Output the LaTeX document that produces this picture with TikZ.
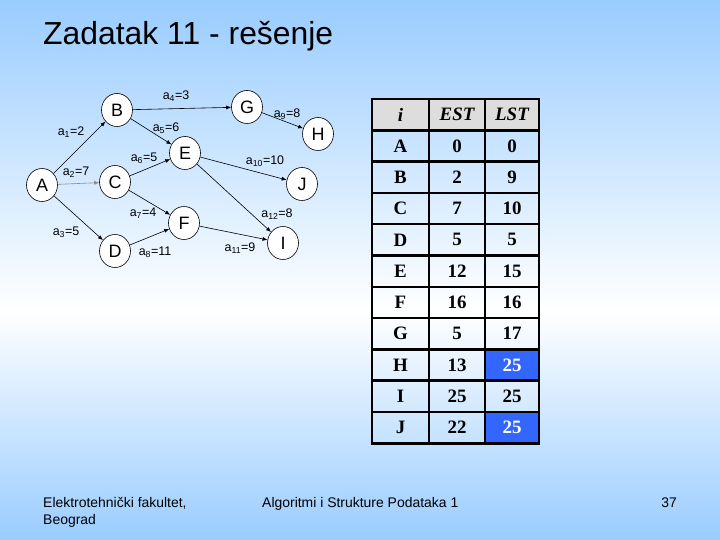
\documentclass[tikz,border=0pt]{standalone}
\usepackage{fontspec}
\setmainfont{Liberation Sans}
\newfontfamily\tabfont{Liberation Serif}
\usepackage{tikz}
\usetikzlibrary{
  shapes.geometric,
  arrows.meta,
  positioning
}
\definecolor{SlideBlue}{RGB}{153, 204, 255}
\definecolor{HeadGray}{RGB}{221, 221, 221}
\definecolor{MarkBlue}{RGB}{51, 102, 255}
\tikzset{
    event/.style={ellipse, draw, fill=white, line width=0.6bp, inner sep=0pt,
        minimum width=31bp, minimum height=33bp, font=\fontsize{18}{18}\selectfont},
    act/.style={-{Latex[length=5bp, width=4bp]}, line width=0.6bp},
    lbl/.style={inner sep=0pt, font=\fontsize{12.5}{12.5}\selectfont},
    cell/.style={rectangle, draw, line width=2.5bp, inner sep=0pt, minimum height=31.3bp,
        font=\tabfont\bfseries\fontsize{19}{19}\selectfont},
    headcell/.style={fill=HeadGray, font=\tabfont\bfseries\itshape\fontsize{19}{19}\selectfont},
    lstplain/.style={},
    lstmark/.style={fill=MarkBlue, text=white},
    foot/.style={inner sep=0pt, font=\fontsize{14}{14}\selectfont}
}

\begin{document}
\begin{tikzpicture}[x=1bp, y=-1bp]
    \useasboundingbox (0,0) rectangle (720,540);
    % slide background
    \shade[top color=SlideBlue, bottom color=white] (0,0) rectangle (720,310);
    \shade[top color=white, bottom color=SlideBlue] (0,310) rectangle (720,540);

    \node[anchor=base west, inner sep=0pt, font=\fontsize{32}{32}\selectfont] (title) at (43,45)
        {Zadatak 11 - rešenje};

    % events
    \node[event] (A) at (42,185) {A};
    \node[event] (B) at (117,110) {B};
    \node[event] (C) at (115,182) {C};
    \node[event] (D) at (115,251) {D};
    \node[event] (E) at (185,153) {E};
    \node[event] (F) at (184,223) {F};
    \node[event] (G) at (247,107) {G};
    \node[event] (H) at (318,134) {H};
    \node[event] (I) at (283,243) {I};
    \node[event] (J) at (302,184) {J};

    % activities
    \draw[act] (A) -- (B);
    \draw[act, draw=black!45] (A) -- (C);
    \draw[act] (A) -- (D);
    \draw[act] (B) -- (G);
    \draw[act] (B) -- (E);
    \draw[act] (C) -- (E);
    \draw[act] (C) -- (F);
    \draw[act] (D) -- (F);
    \draw[act] (G) -- (H);
    \draw[act] (E) -- (J);
    \draw[act] (E) -- (I);
    \draw[act] (F) -- (I);

    \node[lbl] (l1) at (71,132) {a\textsubscript{1}=2};
    \node[lbl] (l2) at (76,172) {a\textsubscript{2}=7};
    \node[lbl] (l3) at (66,232) {a\textsubscript{3}=5};
    \node[lbl] (l4) at (176,96) {a\textsubscript{4}=3};
    \node[lbl] (l5) at (166,128) {a\textsubscript{5}=6};
    \node[lbl] (l6) at (144,158) {a\textsubscript{6}=5};
    \node[lbl] (l7) at (143,213) {a\textsubscript{7}=4};
    \node[lbl] (l8) at (155,252) {a\textsubscript{8}=11};
    \node[lbl] (l9) at (287,114) {a\textsubscript{9}=8};
    \node[lbl] (l10) at (265,161) {a\textsubscript{10}=10};
    \node[lbl] (l11) at (240,248) {a\textsubscript{11}=9};
    \node[lbl] (l12) at (277,214) {a\textsubscript{12}=8};

    % table
    \node[cell, headcell, minimum width=57bp] (hi) at (400.5,114.65) {i};
    \node[cell, headcell, minimum width=56bp] (hest) at (457,114.65) {EST};
    \node[cell, headcell, minimum width=54bp] (hlst) at (512,114.65) {LST};
    \foreach \n/\e/\l/\s [count=\k] in {A/0/0/lstplain, B/2/9/lstplain, C/7/10/lstplain,
        D/5/5/lstplain, E/12/15/lstplain, F/16/16/lstplain, G/5/17/lstplain,
        H/13/25/lstmark, I/25/25/lstplain, J/22/25/lstmark} {
        \node[cell, minimum width=57bp] (i\k) at (400.5,114.65+31.3*\k) {\n};
        \node[cell, minimum width=56bp] (est\k) at (457,114.65+31.3*\k) {\e};
        \node[cell, \s, minimum width=54bp] (lst\k) at (512,114.65+31.3*\k) {\l};
    }

    % footer
    \node[foot, anchor=base west] (fac) at (43,507) {Elektrotehnički fakultet,};
    \node[foot, anchor=base west] (city) at (43,524) {Beograd};
    \node[foot, anchor=base west] (course) at (262,507) {Algoritmi i Strukture Podataka 1};
    \node[foot, anchor=base east] (page) at (677,507) {37};
\end{tikzpicture}
\end{document}
